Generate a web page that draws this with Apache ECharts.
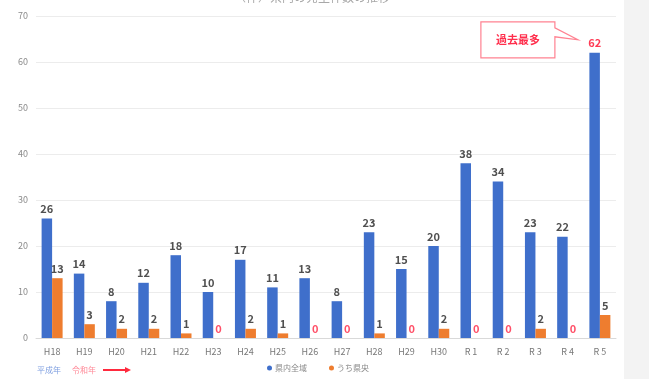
<!DOCTYPE html>
<html>
<head>
<meta charset="utf-8">
<script src="https://cdn.jsdelivr.net/npm/echarts@6/dist/echarts.min.js"></script>
<style>
  html, body { margin: 0; padding: 0; background: #f3f3f3; }
  #chart { width: 624px; height: 379px; background: #fff; }
</style>
</head>
<body>
<div id="chart"></div>
<script>
// 年度
const categories = ['H18', 'H19', 'H20', 'H21', 'H22', 'H23', 'H24', 'H25', 'H26', 'H27', 'H28', 'H29', 'H30', 'R 1', 'R 2', 'R 3', 'R 4', 'R 5']
// 県内全域
const allValues = [26, 14, 8, 12, 18, 10, 17, 11, 13, 8, 23, 15, 20, 38, 34, 23, 22, 62]
// うち県央
const centralValues = [13, 3, 2, 2, 1, 0, 2, 1, 0, 0, 1, 0, 2, 0, 0, 2, 0, 5]
const yTicks = [0, 10, 20, 30, 40, 50, 60, 70]

const FONT = '"Noto Sans CJK JP", "Noto Sans", sans-serif'
const chart = echarts.init(document.getElementById('chart'))

const maxVal = Math.max(...allValues)

const options = {
  animation: false,
  textStyle: { fontFamily: FONT },
  title: {
    text: '（件）県内の発生件数の推移',
    left: 'center',
    top: -14,
    textStyle: { fontSize: 12, color: '#a8a8a8', fontWeight: 'normal', fontFamily: FONT },
  },
  legend: {
    bottom: 2,
    left: 262,
    itemWidth: 5,
    itemHeight: 5,
    itemGap: 22,
    icon: 'circle',
    textStyle: { fontSize: 8, color: '#8a8a8a', fontFamily: FONT, padding: [0, 0, 0, -2] },
    data: ['県内全域', 'うち県央'],
  },
  grid: {
    top: 16,
    bottom: 41,
    left: 36,
    right: 8,
  },
  xAxis: {
    type: 'category',
    data: categories,
    axisLine: { lineStyle: { color: '#d9d9d9' } },
    axisTick: { show: false },
    axisLabel: { color: '#777', fontSize: 9, margin: 9, fontFamily: FONT },
  },
  yAxis: {
    type: 'value',
    min: yTicks[0],
    max: yTicks[yTicks.length - 1],
    interval: 10,
    axisLine: { show: false },
    axisTick: { show: false },
    axisLabel: { color: '#8a8a8a', fontSize: 9, margin: 8 },
    splitLine: { lineStyle: { color: '#ececec' } },
  },
  series: [
    {
      name: '県内全域',
      type: 'bar',
      barWidth: 10.5,
      barGap: '0%',
      itemStyle: { color: '#3f6fcb' },
      label: {
        show: true,
        position: 'top',
        distance: 4,
        fontSize: 11,
        fontWeight: 'bold',
        color: '#505050',
        // 最大値だけ赤
        formatter: (p) => (p.value === maxVal ? '{r|' + p.value + '}' : p.value),
        rich: { r: { color: '#ff3b55', fontSize: 11, fontWeight: 'bold' } },
      },
      data: allValues,
    },
    {
      name: 'うち県央',
      type: 'bar',
      barWidth: 10.5,
      itemStyle: { color: '#ee7d2f' },
      label: {
        show: true,
        position: 'top',
        distance: 4,
        fontSize: 11,
        fontWeight: 'bold',
        color: '#505050',
        formatter: (p) => (p.value === 0 ? '{z|0}' : p.value),
        rich: { z: { color: '#ff5068', fontSize: 11, fontWeight: 'bold' } },
      },
      data: centralValues,
    },
  ],
}
chart.setOption(options)

// 「過去最多」吹き出しは最大値の位置から置く
const maxIdx = allValues.indexOf(maxVal)
const p = chart.convertToPixel({ seriesIndex: 0 }, [categories[maxIdx], maxVal])
const x1 = p[0] - 45
const x0 = x1 - 74
const y0 = p[1] - 31
const y1 = y0 + 36
const tipX = p[0] - 22
const tipY = p[1] - 13
const base = chart.convertToPixel({ seriesIndex: 0 }, [categories[0], 0])
const noteY = base[1] + 32

chart.setOption({
  graphic: [
    {
      type: 'polygon',
      shape: {
        points: [
          [x0, y0], [x1, y0], [x1, y0 + 6], [tipX, tipY], [x1, y0 + 15], [x1, y1], [x0, y1],
        ],
      },
      style: { fill: '#fff', stroke: '#ff8291', lineWidth: 1.2 },
    },
    {
      type: 'text',
      x: (x0 + x1) / 2,
      y: (y0 + y1) / 2,
      style: {
        text: '過去最多',
        fill: '#ff2e4c',
        font: 'bold 11px ' + FONT,
        align: 'center',
        verticalAlign: 'middle',
      },
    },
    {
      type: 'text',
      x: 37,
      y: noteY,
      style: { text: '平成年', fill: '#7f9fe0', font: '8px ' + FONT, verticalAlign: 'middle' },
    },
    {
      type: 'text',
      x: 72,
      y: noteY,
      style: { text: '令和年', fill: '#ff8a98', font: '8px ' + FONT, verticalAlign: 'middle' },
    },
    {
      type: 'line',
      shape: { x1: 103, y1: noteY, x2: 126, y2: noteY },
      style: { stroke: '#ff2a3e', lineWidth: 2 },
    },
    {
      type: 'polygon',
      shape: { points: [[125, noteY - 3], [131, noteY], [125, noteY + 3]] },
      style: { fill: '#ff2a3e' },
    },
  ],
})
</script>
</body>
</html>
